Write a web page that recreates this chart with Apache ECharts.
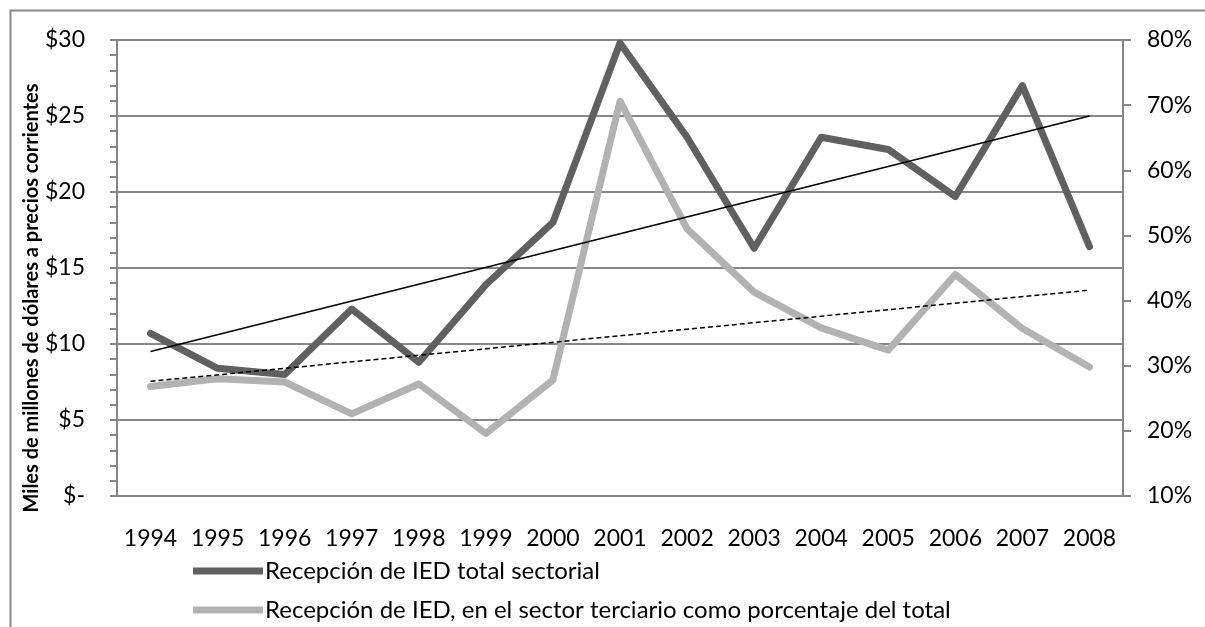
<!DOCTYPE html>
<html>
<head>
<meta charset="utf-8">
<script src="https://cdn.jsdelivr.net/npm/echarts@6/dist/echarts.min.js"></script>
<style>
html,body{margin:0;padding:0;background:#fff;}
#c{width:1205px;height:627px;}
</style>
</head>
<body>
<div id="c"></div>
<script>
const years = ['1994','1995','1996','1997','1998','1999','2000','2001','2002','2003','2004','2005','2006','2007','2008'];
const totalSectorial = [10.7, 8.4, 8.0, 12.3, 8.8, 13.9, 18.0, 29.8, 23.6, 16.3, 23.6, 22.8, 19.7, 27.0, 16.4];
const terciarioPct = [26.8, 28.0, 27.5, 22.6, 27.2, 19.6, 27.8, 70.6, 51.0, 41.3, 35.8, 32.4, 44.0, 35.7, 29.8];
const trendTotal = [['1994', 9.5], ['2008', 25.0]];
const trendPct = [['1994', 27.6], ['2008', 41.6]];
const leftTicks = {min: 0, max: 30, interval: 5};
const rightTicks = {min: 10, max: 80, interval: 10};
const nameTotal = 'Recepción de IED total sectorial';
const namePct = 'Recepción de IED, en el sector terciario como porcentaje del total';
const yName = 'Miles de millones de dólares a precios corrientes';

const FONT = 'Lato';
const FS = 23;
const chart = echarts.init(document.getElementById('c'), null, {renderer: 'canvas'});
chart.setOption({
  animation: false,
  backgroundColor: '#fff',
  textStyle: {fontFamily: FONT},
  graphic: [{
    type: 'rect', left: 8, top: 8, silent: true,
    shape: {x: 0, y: 0, width: 1210, height: 640},
    style: {fill: 'none', stroke: '#868686', lineWidth: 2}
  }, {
    type: 'text', x: 32, y: 298, rotation: Math.PI / 2, silent: true,
    style: {text: yName, fontFamily: FONT, fontSize: 20, fontWeight: 'bold', fill: '#000',
      align: 'center', verticalAlign: 'middle'}
  }],
  grid: {left: 117, right: 82, top: 40, bottom: 131, containLabel: false},
  legend: {
    orient: 'vertical', left: 193, top: 559, padding: 0,
    itemWidth: 70, itemHeight: 7, itemGap: 15,
    icon: 'rect',
    textStyle: {fontFamily: FONT, fontSize: 24, color: '#000', padding: [0,0,0,-3]},
    data: [nameTotal, namePct]
  },
  xAxis: {
    type: 'category', data: years, boundaryGap: true,
    axisLine: {show: true, lineStyle: {color: '#868686', width: 2}},
    axisTick: {show: false},
    axisLabel: {fontFamily: FONT, fontSize: FS, color: '#000', margin: 31, interval: 0}
  },
  yAxis: [{
    type: 'value', position: 'left', min: leftTicks.min, max: leftTicks.max, interval: leftTicks.interval,
    axisLine: {show: true, lineStyle: {color: '#868686', width: 2}},
    axisTick: {show: true, inside: false, length: 7, lineStyle: {color: '#868686', width: 2}},
    minorTick: {show: true, splitNumber: 5, length: 7, lineStyle: {color: '#868686', width: 2}},
    splitLine: {show: true, lineStyle: {color: '#868686', width: 2}},
    axisLabel: {fontFamily: FONT, fontSize: FS, color: '#000', margin: 32,
      formatter: v => v === 0 ? '$-' : '$' + v}
  }, {
    type: 'value', position: 'right', min: rightTicks.min, max: rightTicks.max, interval: rightTicks.interval,
    axisLine: {show: true, lineStyle: {color: '#868686', width: 2}},
    axisTick: {show: true, inside: false, length: 8, lineStyle: {color: '#868686', width: 2}},
    splitLine: {show: false},
    axisLabel: {fontFamily: FONT, fontSize: FS, color: '#000', margin: 24,
      formatter: v => v + '%'}
  }],
  series: [{
    name: namePct, type: 'line', yAxisIndex: 1, data: terciarioPct,
    symbol: 'none', color: '#b2b2b2',
    lineStyle: {color: '#b2b2b2', width: 7, cap: 'round', join: 'round'}, z: 2
  }, {
    name: nameTotal, type: 'line', yAxisIndex: 0, data: totalSectorial,
    symbol: 'none', color: '#606060',
    lineStyle: {color: '#606060', width: 7, cap: 'round', join: 'round'}, z: 3
  }, {
    name: 'trend1', type: 'line', yAxisIndex: 0, data: trendTotal,
    symbol: 'none', lineStyle: {color: '#000', width: 1.5}, z: 4
  }, {
    name: 'trend2', type: 'line', yAxisIndex: 1, data: trendPct,
    symbol: 'none', lineStyle: {color: '#000', width: 1.5, type: [5, 3]}, z: 4
  }]
});
</script>
</body>
</html>
